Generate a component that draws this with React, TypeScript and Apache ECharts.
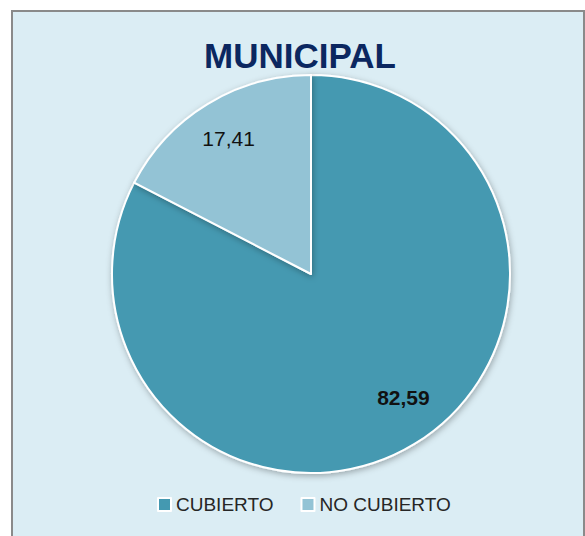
import React, { useEffect, useRef } from "react";
import * as echarts from "echarts";

const titleText = "MUNICIPAL";
const categories = ["CUBIERTO", "NO CUBIERTO"];
const values = [82.59, 17.41];
const colors = ["#4499B1", "#93C3D5"];
const labelWeights = ["bold", "normal"];
const labelOffsets = [[10, -12], [0, 0]];

export default function App() {
  const ref = useRef<HTMLDivElement>(null);
  useEffect(() => {
    if (!ref.current) return;
    const chart = echarts.init(ref.current, null, { renderer: "svg" });
    const font = "'Liberation Sans', Arial, sans-serif";
    const pieData = categories.map((name, i) => ({
      name,
      value: values[i],
      itemStyle: { color: colors[i] },
    }));
    const labelData = categories.map((name, i) => ({
      name,
      value: values[i],
      label: { fontWeight: labelWeights[i], offset: labelOffsets[i] },
    }));
    chart.setOption({
      animation: false,
      backgroundColor: "#ffffff",
      graphic: [
        {
          type: "rect",
          z: -10,
          shape: { x: 12, y: 11, width: 572, height: 540 },
          style: { fill: "#DBEDF4", stroke: "#8A8A8A", lineWidth: 2 },
        },
      ],
      title: {
        text: titleText,
        left: 295,
        textAlign: "center",
        top: 33,
        textStyle: {
          fontFamily: font,
          fontSize: 35,
          fontWeight: "bold",
          color: "#0B2760",
        },
      },
      legend: {
        data: categories,
        left: 152,
        top: 490,
        icon: "rect",
        itemWidth: 13,
        itemHeight: 13,
        itemGap: 27,
        textStyle: { fontFamily: font, fontSize: 19, color: "#262626" },
      },
      series: [
        {
          type: "pie",
          center: [311, 274],
          radius: 199,
          startAngle: 90,
          clockwise: true,
          label: { show: false },
          labelLine: { show: false },
          emphasis: { disabled: true },
          itemStyle: {
            borderColor: "#ffffff",
            borderWidth: 2,
            shadowBlur: 6,
            shadowColor: "rgba(0,0,0,0.3)",
            shadowOffsetX: 1,
            shadowOffsetY: 2,
          },
          data: pieData,
        },
        {
          type: "pie",
          center: [311, 274],
          radius: [112, 199],
          startAngle: 90,
          clockwise: true,
          silent: true,
          emphasis: { disabled: true },
          itemStyle: { color: "rgba(0,0,0,0)", borderWidth: 0 },
          labelLine: { show: false },
          label: {
            show: true,
            position: "inside",
            fontFamily: font,
            fontSize: 21,
            color: "#111111",
            formatter: (p: any) => p.value.toFixed(2).replace(".", ","),
          },
          data: labelData,
        },
      ],
    });
    return () => chart.dispose();
  }, []);
  return (
    <div
      ref={ref}
      style={{ position: "absolute", left: 0, top: 0, width: 585, height: 536 }}
    />
  );
}
